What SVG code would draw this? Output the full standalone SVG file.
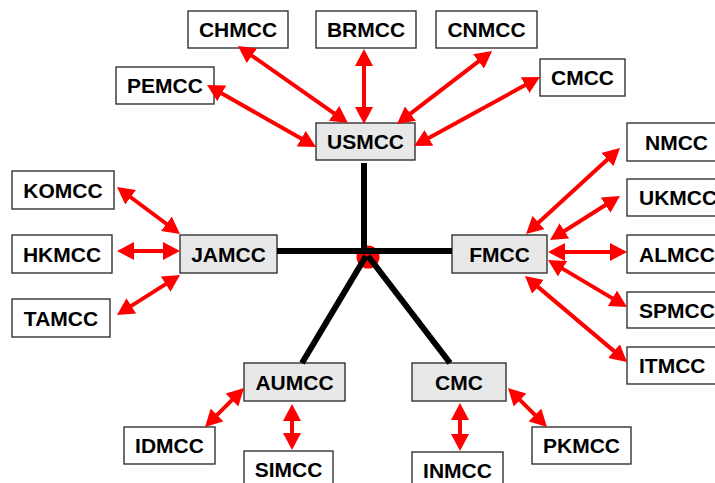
<svg xmlns="http://www.w3.org/2000/svg" width="715" height="483" viewBox="0 0 715 483">
<style>
.box{fill:#fff;stroke:#333;stroke-width:1.4}
.hub{fill:#e8e8e8;stroke:#333;stroke-width:1.4}
.t{font-family:"Liberation Sans",Arial,sans-serif;font-weight:bold;font-size:21px;fill:#000;text-anchor:middle}
.ts{font-family:"Liberation Sans",Arial,sans-serif;font-weight:bold;font-size:21px;fill:#000;text-anchor:start}
.bk{stroke:#000;stroke-width:6;fill:none}
.ar{stroke:#f00;stroke-width:4;fill:none;marker-start:url(#ah);marker-end:url(#ah)}
</style>
<defs>
<marker id="ah" markerUnits="userSpaceOnUse" markerWidth="17" markerHeight="18" refX="7" refY="9" orient="auto-start-reverse" viewBox="0 0 17 18">
<path d="M0,0 L17,9 L0,18 z" fill="#f00"/>
</marker>
</defs>
<g id="nodes">
<g id="CHMCC"><rect class="box" x="188" y="11" width="100" height="37"/><text class="t" x="238" y="37">CHMCC</text></g>
<g id="BRMCC"><rect class="box" x="316" y="11" width="100" height="37"/><text class="t" x="366" y="37">BRMCC</text></g>
<g id="CNMCC"><rect class="box" x="436" y="11" width="101" height="37"/><text class="t" x="486.5" y="37">CNMCC</text></g>
<g id="PEMCC"><rect class="box" x="116" y="67" width="98" height="37"/><text class="t" x="165" y="93">PEMCC</text></g>
<g id="CMCC"><rect class="box" x="540" y="59" width="85" height="37"/><text class="t" x="582.5" y="85">CMCC</text></g>
<g id="USMCC"><rect class="hub" x="316" y="123" width="99" height="37"/><text class="t" x="365.5" y="149">USMCC</text></g>
<g id="NMCC"><rect class="box" x="627" y="123" width="100" height="38"/><text class="ts" x="645" y="150">NMCC</text></g>
<g id="UKMCC"><rect class="box" x="627" y="179" width="100" height="37"/><text class="ts" x="639" y="205">UKMCC</text></g>
<g id="ALMCC"><rect class="box" x="627" y="235" width="100" height="38"/><text class="ts" x="639" y="262">ALMCC</text></g>
<g id="SPMCC"><rect class="box" x="627" y="292" width="100" height="36"/><text class="ts" x="639" y="318">SPMCC</text></g>
<g id="ITMCC"><rect class="box" x="627" y="347" width="100" height="37"/><text class="ts" x="639" y="373">ITMCC</text></g>
<g id="FMCC"><rect class="hub" x="452" y="235" width="95" height="38"/><text class="t" x="499.5" y="262">FMCC</text></g>
<g id="JAMCC"><rect class="hub" x="180" y="235" width="97" height="38"/><text class="t" x="228.5" y="262">JAMCC</text></g>
<g id="KOMCC"><rect class="box" x="12" y="171" width="102" height="38"/><text class="t" x="63" y="198">KOMCC</text></g>
<g id="HKMCC"><rect class="box" x="12" y="235" width="100" height="38"/><text class="t" x="62" y="262">HKMCC</text></g>
<g id="TAMCC"><rect class="box" x="12" y="299" width="98" height="38"/><text class="t" x="61" y="326">TAMCC</text></g>
<g id="AUMCC"><rect class="hub" x="244" y="363" width="101" height="38"/><text class="t" x="294.5" y="390">AUMCC</text></g>
<g id="CMC"><rect class="hub" x="412" y="363" width="94" height="38"/><text class="t" x="459" y="390">CMC</text></g>
<g id="IDMCC"><rect class="box" x="124" y="427" width="91" height="37"/><text class="t" x="169.5" y="453">IDMCC</text></g>
<g id="SIMCC"><rect class="box" x="244" y="451" width="89" height="37"/><text class="t" x="288.5" y="477">SIMCC</text></g>
<g id="PKMCC"><rect class="box" x="532" y="427" width="99" height="37"/><text class="t" x="581.5" y="453">PKMCC</text></g>
<g id="INMCC"><rect class="box" x="412" y="452" width="91" height="37"/><text class="t" x="457.5" y="478">INMCC</text></g>
</g>
<g id="connectors">
<circle cx="368" cy="257" r="11.5" fill="#f00"/>
<line class="bk" x1="364" y1="163" x2="364" y2="251"/>
<line class="bk" x1="277" y1="251" x2="452" y2="251"/>
<line class="bk" x1="366" y1="256" x2="302" y2="363"/>
<line class="bk" x1="368" y1="256" x2="450" y2="363"/>
<line class="ar" x1="215.7" y1="89.9" x2="307.3" y2="142.1"/>
<line class="ar" x1="246.2" y1="51.7" x2="339.8" y2="117.3"/>
<line class="ar" x1="364" y1="59" x2="364" y2="114"/>
<line class="ar" x1="484.1" y1="57.1" x2="404.9" y2="117.9"/>
<line class="ar" x1="531.2" y1="81.8" x2="422.8" y2="141.2"/>
<line class="ar" x1="612.6" y1="154.8" x2="533.4" y2="227.2"/>
<line class="ar" x1="611.5" y1="201.3" x2="558.5" y2="234.7"/>
<line class="ar" x1="558" y1="252" x2="617" y2="252"/>
<line class="ar" x1="556.6" y1="265.1" x2="618.4" y2="301.9"/>
<line class="ar" x1="532.6" y1="282.4" x2="619.4" y2="355.6"/>
<line class="ar" x1="125" y1="193" x2="172" y2="228"/>
<line class="ar" x1="127" y1="251" x2="170" y2="251"/>
<line class="ar" x1="125.4" y1="309.6" x2="171.6" y2="280.4"/>
<line class="ar" x1="212.1" y1="419.9" x2="236.9" y2="395.1"/>
<line class="ar" x1="292" y1="414" x2="292" y2="440"/>
<line class="ar" x1="460" y1="413" x2="460" y2="441"/>
<line class="ar" x1="515.1" y1="395.1" x2="539.9" y2="419.9"/>
</g>
</svg>
